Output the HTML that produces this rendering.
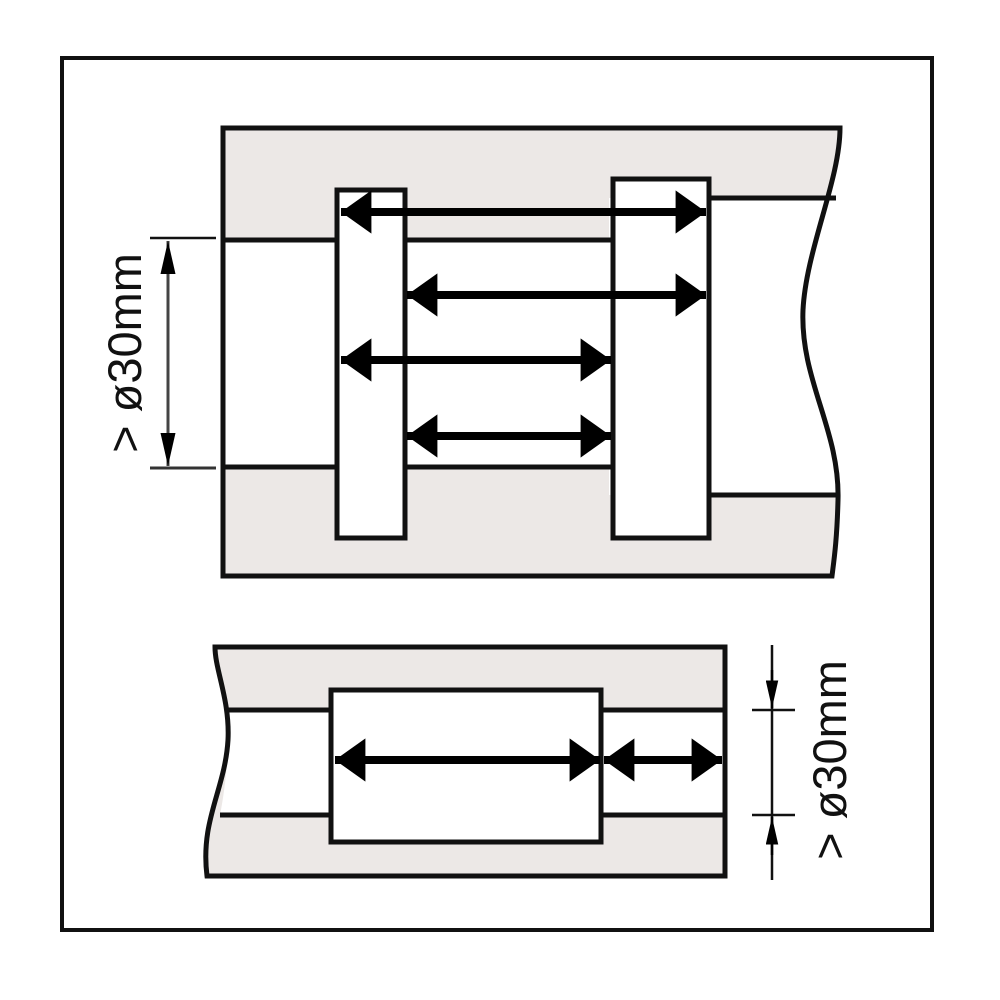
<!DOCTYPE html>
<html><head><meta charset="utf-8"><style>
html,body{margin:0;padding:0;background:#fff;}
svg{display:block;}
</style></head><body>
<svg width="1000" height="1000" viewBox="0 0 1000 1000" xmlns="http://www.w3.org/2000/svg">
<defs>
<marker id="ah" viewBox="0 0 10 10" refX="10" refY="5" markerWidth="3.8" markerHeight="5.4" markerUnits="strokeWidth" orient="auto-start-reverse" preserveAspectRatio="none">
<path d="M0,0 L10,5 L0,10 Z" fill="#000"/></marker>
<marker id="th" viewBox="0 0 10 10" refX="10" refY="5" markerWidth="11" markerHeight="5" markerUnits="strokeWidth" orient="auto-start-reverse" preserveAspectRatio="none">
<path d="M0,0 L10,5 L0,10 Z" fill="#000"/></marker>
</defs>
<rect x="62" y="58" width="870" height="872" fill="#fff" stroke="#111" stroke-width="4"/>

<!-- top block -->
<path d="M223,128 L840,128 C840,180 806,250 803,310 C800,380 840,430 838,500 C837,540 834,560 832,576 L223,576 Z" fill="#ece8e6"/>
<path d="M223,240 L613,240 L613,467 L223,467 Z" fill="#fff"/>
<path d="M609,198 L834,198 C820,240 805,270 803,310 C800,380 840,430 838,495 L609,495 Z" fill="#fff"/>
<line x1="223" y1="240" x2="613" y2="240" stroke="#111" stroke-width="5"/>
<line x1="223" y1="467" x2="613" y2="467" stroke="#111" stroke-width="5"/>
<line x1="709" y1="198" x2="836" y2="198" stroke="#111" stroke-width="5"/>
<line x1="709" y1="495" x2="838" y2="495" stroke="#111" stroke-width="5"/>
<path d="M223,128 L840,128 C840,180 806,250 803,310 C800,380 840,430 838,500 C837,540 834,560 832,576 L223,576 Z" fill="none" stroke="#111" stroke-width="5"/>
<rect x="337" y="190" width="68" height="348" fill="#fff" stroke="#111" stroke-width="5"/>
<rect x="613" y="179" width="96" height="359" fill="#fff" stroke="#111" stroke-width="5"/>

<g stroke="#000" stroke-width="8" marker-start="url(#ah)" marker-end="url(#ah)">
<line x1="341" y1="212" x2="706" y2="212"/>
<line x1="407" y1="295" x2="706" y2="295"/>
<line x1="341" y1="360" x2="611" y2="360"/>
<line x1="407" y1="436" x2="611" y2="436"/>
</g>

<!-- left dimension -->
<line x1="150" y1="238" x2="216" y2="238" stroke="#111" stroke-width="2.5"/>
<line x1="150" y1="468" x2="216" y2="468" stroke="#333" stroke-width="3"/>
<line x1="168" y1="241" x2="168" y2="466" stroke="#444" stroke-width="3" marker-start="url(#th)" marker-end="url(#th)"/>
<text transform="translate(141,353) rotate(-90)" text-anchor="middle" font-family="Liberation Sans, DejaVu Sans, sans-serif" font-size="47" fill="#111">&gt; ø30mm</text>

<!-- bottom block -->
<path d="M215,647 L725,647 L725,876 L207,876 C200,820 225,790 228,740 C230,700 215,670 215,647 Z" fill="#ece8e6"/>
<path d="M225,710 L725,710 L725,815 L220,815 C225,790 228,760 228,740 C228,725 227,717 225,710 Z" fill="#fff"/>
<line x1="225" y1="710" x2="725" y2="710" stroke="#111" stroke-width="5"/>
<line x1="220" y1="815" x2="725" y2="815" stroke="#111" stroke-width="5"/>
<path d="M215,647 L725,647 L725,876 L207,876 C200,820 225,790 228,740 C230,700 215,670 215,647 Z" fill="none" stroke="#111" stroke-width="5"/>
<rect x="331" y="690" width="270" height="152" fill="#fff" stroke="#111" stroke-width="5"/>
<g stroke="#000" stroke-width="8" marker-start="url(#ah)" marker-end="url(#ah)">
<line x1="335" y1="760" x2="600" y2="760"/>
<line x1="604" y1="760" x2="722" y2="760"/>
</g>

<!-- right dimension -->
<line x1="772" y1="645" x2="772" y2="880" stroke="#111" stroke-width="2.5"/>
<line x1="752" y1="710" x2="795" y2="710" stroke="#111" stroke-width="2.5"/>
<line x1="752" y1="815" x2="795" y2="815" stroke="#111" stroke-width="2.5"/>
<line x1="772" y1="670" x2="772" y2="708" stroke="#000" stroke-width="2.5" marker-end="url(#th)"/>
<line x1="772" y1="855" x2="772" y2="817" stroke="#000" stroke-width="2.5" marker-end="url(#th)"/>
<text transform="translate(846,760) rotate(-90)" text-anchor="middle" font-family="Liberation Sans, DejaVu Sans, sans-serif" font-size="47" fill="#111">&gt; ø30mm</text>
</svg>
</body></html>
